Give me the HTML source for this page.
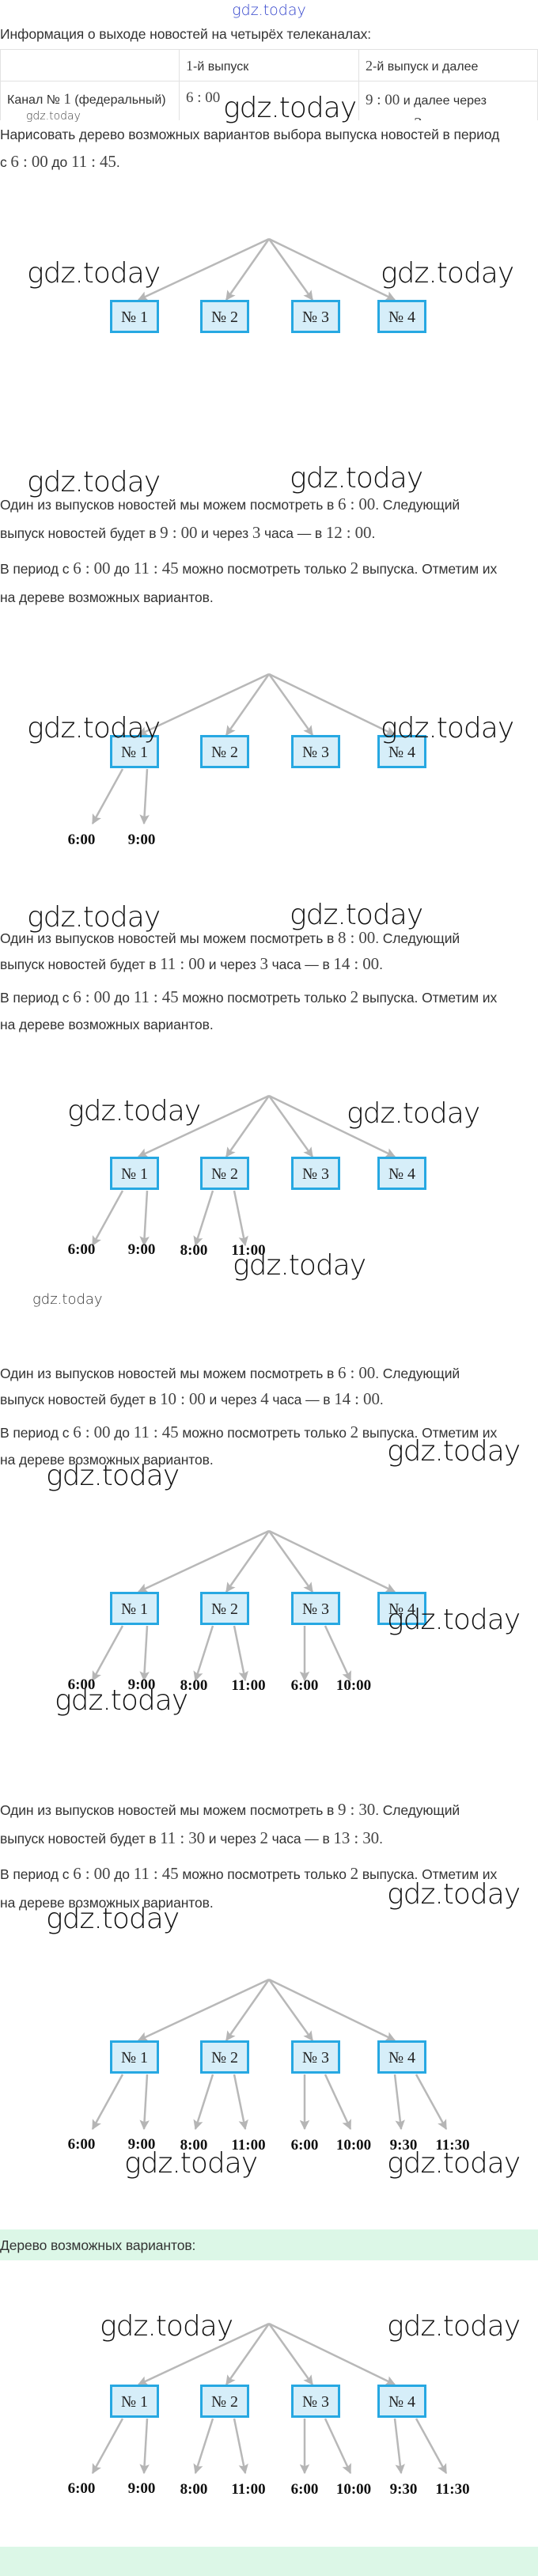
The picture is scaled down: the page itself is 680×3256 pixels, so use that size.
<!DOCTYPE html>
<html><head><meta charset="utf-8">
<style>
html,body{margin:0;padding:0;background:#fff;}
body{width:680px;height:3256px;position:relative;overflow:hidden;font-family:"Liberation Sans",sans-serif;color:#333;}
.l{position:absolute;left:0;white-space:nowrap;font-size:17.5px;line-height:22px;height:22px;color:#333;letter-spacing:-0.1px;}
.m{font-family:"Liberation Serif",serif;font-size:21px;color:#444;}
.wm{position:absolute;white-space:nowrap;font-family:"DejaVu Sans","Liberation Sans",sans-serif;font-weight:200;color:#111;font-size:36px;line-height:40px;height:40px;letter-spacing:-1px;}
svg.t{position:absolute;left:0;width:680px;height:230px;overflow:visible;}
.tbl{position:absolute;left:0;top:62px;width:680px;height:90px;overflow:hidden;}
.cell{position:absolute;border:1px solid #e2e2e2;box-sizing:border-box;font-size:16px;color:#333;padding:0 8px;}
.green{position:absolute;left:0;width:680px;background:#dcf7e7;}
</style></head><body>

<div style="position:absolute;left:0;width:680px;top:2px;text-align:center;font-size:19px;color:#3344cc;font-family:'DejaVu Sans',sans-serif;font-weight:200;">gdz.today</div>

<div class="l" style="top:32px">Информация о выходе новостей на четырёх телеканалах:</div>

<div class="tbl">
 <div class="cell" style="left:0;top:0;width:227px;height:41px;"></div>
 <div class="cell" style="left:226px;top:0;width:228px;height:41px;line-height:40px;"><span class="m" style="font-size:18px">1</span>-й выпуск</div>
 <div class="cell" style="left:453px;top:0;width:227px;height:41px;line-height:40px;"><span class="m" style="font-size:18px">2</span>-й выпуск и далее</div>
 <div class="cell" style="left:0;top:40px;width:227px;height:80px;padding-top:12px;">Канал № <span class="m" style="font-size:19px">1</span> (федеральный)</div>
 <div class="cell" style="left:226px;top:40px;width:228px;height:80px;padding-top:10px;"><span class="m" style="font-size:19px">6 : 00</span></div>
 <div class="cell" style="left:453px;top:40px;width:227px;height:80px;padding-top:10px;line-height:28px;"><span class="m" style="font-size:19px">9 : 00</span> и далее через<br>каждые <span class="m">3</span> часа</div>
</div>
<div class="wm" style="left:33px;top:138px;font-size:14px;line-height:18px;height:18px;color:#444;letter-spacing:0">gdz.today</div>
<div class="wm" style="left:282px;top:117px;">gdz.today</div>

<div class="l" style="top:159px">Нарисовать дерево возможных вариантов выбора выпуска новостей в период</div>
<div class="l" style="top:193px">с <span class="m">6 : 00</span> до <span class="m">11 : 45</span>.</div>

<svg width="0" height="0" style="position:absolute">
<defs>
<marker id="ah" viewBox="0 0 10 10" refX="9" refY="5" markerWidth="5.5" markerHeight="5" orient="auto" markerUnits="strokeWidth">
<path d="M0,0 L10,5 L0,10 L2,5 z" fill="#b5b5b5"/>
</marker>
</defs>
</svg>

<!-- Tree 1 -->
<svg class="t" style="top:302px" viewBox="0 0 680 230">
<g stroke="#b8b8b8" stroke-width="2.5" fill="none" marker-end="url(#ah)">
<line x1="340" y1="0" x2="175" y2="77"/><line x1="340" y1="0" x2="286" y2="77"/><line x1="340" y1="0" x2="395" y2="77"/><line x1="340" y1="0" x2="499" y2="77"/>
</g>
<g fill="#d6eef9" stroke="#27a8e2" stroke-width="3">
<rect x="140.5" y="78.5" width="59" height="39"/><rect x="254.5" y="78.5" width="59" height="39"/><rect x="369.5" y="78.5" width="59" height="39"/><rect x="478.5" y="78.5" width="59" height="39"/>
</g>
<g font-family="Liberation Serif,serif" font-size="20" fill="#222" text-anchor="middle">
<text x="170" y="105">№ 1</text><text x="284" y="105">№ 2</text><text x="399" y="105">№ 3</text><text x="508" y="105">№ 4</text>
</g>
</svg>
<div class="wm" style="left:34px;top:326px;">gdz.today</div>
<div class="wm" style="left:481px;top:326px;">gdz.today</div>

<!-- Section 2 -->
<div class="wm" style="left:34px;top:590px;">gdz.today</div>
<div class="wm" style="left:366px;top:585px;">gdz.today</div>
<div class="l" style="top:626px">Один из выпусков новостей мы можем посмотреть в <span class="m">6 : 00</span>. Следующий</div>
<div class="l" style="top:662px">выпуск новостей будет в <span class="m">9 : 00</span> и через <span class="m">3</span> часа — в <span class="m">12 : 00</span>.</div>
<div class="l" style="top:707px">В период с <span class="m">6 : 00</span> до <span class="m">11 : 45</span> можно посмотреть только <span class="m">2</span> выпуска. Отметим их</div>
<div class="l" style="top:744px">на дереве возможных вариантов.</div>

<svg class="t" style="top:852px" viewBox="0 0 680 230">
<g stroke="#b8b8b8" stroke-width="2.5" fill="none" marker-end="url(#ah)">
<line x1="340" y1="0" x2="175" y2="77"/><line x1="340" y1="0" x2="286" y2="77"/><line x1="340" y1="0" x2="395" y2="77"/><line x1="340" y1="0" x2="499" y2="77"/>
<line x1="155" y1="120" x2="117" y2="189"/><line x1="186" y1="120" x2="182" y2="189"/>
</g>
<g fill="#d6eef9" stroke="#27a8e2" stroke-width="3">
<rect x="140.5" y="78.5" width="59" height="39"/><rect x="254.5" y="78.5" width="59" height="39"/><rect x="369.5" y="78.5" width="59" height="39"/><rect x="478.5" y="78.5" width="59" height="39"/>
</g>
<g font-family="Liberation Serif,serif" font-size="20" fill="#222" text-anchor="middle">
<text x="170" y="105">№ 1</text><text x="284" y="105">№ 2</text><text x="399" y="105">№ 3</text><text x="508" y="105">№ 4</text>
</g>
<g font-family="Liberation Serif,serif" font-size="19" font-weight="bold" fill="#111" text-anchor="middle">
<text x="103" y="215">6:00</text><text x="179" y="215">9:00</text>
</g>
</svg>
<div class="wm" style="left:34px;top:901px;">gdz.today</div>
<div class="wm" style="left:481px;top:901px;">gdz.today</div>

<!-- Section 3 -->
<div class="wm" style="left:34px;top:1140px;">gdz.today</div>
<div class="wm" style="left:366px;top:1137px;">gdz.today</div>
<div class="l" style="top:1174px">Один из выпусков новостей мы можем посмотреть в <span class="m">8 : 00</span>. Следующий</div>
<div class="l" style="top:1207px">выпуск новостей будет в <span class="m">11 : 00</span> и через <span class="m">3</span> часа — в <span class="m">14 : 00</span>.</div>
<div class="l" style="top:1249px">В период с <span class="m">6 : 00</span> до <span class="m">11 : 45</span> можно посмотреть только <span class="m">2</span> выпуска. Отметим их</div>
<div class="l" style="top:1284px">на дереве возможных вариантов.</div>

<svg class="t" style="top:1385px" viewBox="0 0 680 230">
<g stroke="#b8b8b8" stroke-width="2.5" fill="none" marker-end="url(#ah)">
<line x1="340" y1="0" x2="175" y2="77"/><line x1="340" y1="0" x2="286" y2="77"/><line x1="340" y1="0" x2="395" y2="77"/><line x1="340" y1="0" x2="499" y2="77"/>
<line x1="155" y1="120" x2="117" y2="189"/><line x1="186" y1="120" x2="182" y2="189"/>
<line x1="269" y1="120" x2="247" y2="189"/><line x1="296" y1="120" x2="310" y2="189"/>
</g>
<g fill="#d6eef9" stroke="#27a8e2" stroke-width="3">
<rect x="140.5" y="78.5" width="59" height="39"/><rect x="254.5" y="78.5" width="59" height="39"/><rect x="369.5" y="78.5" width="59" height="39"/><rect x="478.5" y="78.5" width="59" height="39"/>
</g>
<g font-family="Liberation Serif,serif" font-size="20" fill="#222" text-anchor="middle">
<text x="170" y="105">№ 1</text><text x="284" y="105">№ 2</text><text x="399" y="105">№ 3</text><text x="508" y="105">№ 4</text>
</g>
<g font-family="Liberation Serif,serif" font-size="19" font-weight="bold" fill="#111" text-anchor="middle">
<text x="103" y="200">6:00</text><text x="179" y="200">9:00</text><text x="245" y="201">8:00</text><text x="314" y="201">11:00</text>
</g>
</svg>
<div class="wm" style="left:85px;top:1385px;">gdz.today</div>
<div class="wm" style="left:438px;top:1388px;">gdz.today</div>
<div class="wm" style="left:294px;top:1580px;">gdz.today</div>
<div class="wm" style="left:41px;top:1632px;font-size:18px;line-height:22px;height:22px;color:#333;letter-spacing:0">gdz.today</div>

<!-- Section 4 -->
<div class="l" style="top:1724px">Один из выпусков новостей мы можем посмотреть в <span class="m">6 : 00</span>. Следующий</div>
<div class="l" style="top:1757px">выпуск новостей будет в <span class="m">10 : 00</span> и через <span class="m">4</span> часа — в <span class="m">14 : 00</span>.</div>
<div class="l" style="top:1799px">В период с <span class="m">6 : 00</span> до <span class="m">11 : 45</span> можно посмотреть только <span class="m">2</span> выпуска. Отметим их</div>
<div class="l" style="top:1834px">на дереве возможных вариантов.</div>
<div class="wm" style="left:489px;top:1815px;">gdz.today</div>
<div class="wm" style="left:58px;top:1846px;">gdz.today</div>

<svg class="t" style="top:1935px" viewBox="0 0 680 230">
<g stroke="#b8b8b8" stroke-width="2.5" fill="none" marker-end="url(#ah)">
<line x1="340" y1="0" x2="175" y2="77"/><line x1="340" y1="0" x2="286" y2="77"/><line x1="340" y1="0" x2="395" y2="77"/><line x1="340" y1="0" x2="499" y2="77"/>
<line x1="155" y1="120" x2="117" y2="189"/><line x1="186" y1="120" x2="182" y2="189"/>
<line x1="269" y1="120" x2="247" y2="189"/><line x1="296" y1="120" x2="310" y2="189"/>
<line x1="385" y1="120" x2="385" y2="189"/><line x1="411" y1="120" x2="443" y2="189"/>
</g>
<g fill="#d6eef9" stroke="#27a8e2" stroke-width="3">
<rect x="140.5" y="78.5" width="59" height="39"/><rect x="254.5" y="78.5" width="59" height="39"/><rect x="369.5" y="78.5" width="59" height="39"/><rect x="478.5" y="78.5" width="59" height="39"/>
</g>
<g font-family="Liberation Serif,serif" font-size="20" fill="#222" text-anchor="middle">
<text x="170" y="105">№ 1</text><text x="284" y="105">№ 2</text><text x="399" y="105">№ 3</text><text x="508" y="105">№ 4</text>
</g>
<g font-family="Liberation Serif,serif" font-size="19" font-weight="bold" fill="#111" text-anchor="middle">
<text x="103" y="200">6:00</text><text x="179" y="200">9:00</text><text x="245" y="201">8:00</text><text x="314" y="201">11:00</text><text x="385" y="201">6:00</text><text x="447" y="201">10:00</text>
</g>
</svg>
<div class="wm" style="left:489px;top:2028px;">gdz.today</div>
<div class="wm" style="left:69px;top:2130px;">gdz.today</div>

<!-- Section 5 -->
<div class="l" style="top:2276px">Один из выпусков новостей мы можем посмотреть в <span class="m">9 : 30</span>. Следующий</div>
<div class="l" style="top:2312px">выпуск новостей будет в <span class="m">11 : 30</span> и через <span class="m">2</span> часа — в <span class="m">13 : 30</span>.</div>
<div class="l" style="top:2357px">В период с <span class="m">6 : 00</span> до <span class="m">11 : 45</span> можно посмотреть только <span class="m">2</span> выпуска. Отметим их</div>
<div class="l" style="top:2394px">на дереве возможных вариантов.</div>
<div class="wm" style="left:489px;top:2375px;">gdz.today</div>
<div class="wm" style="left:58px;top:2406px;">gdz.today</div>

<svg class="t" style="top:2502px" viewBox="0 0 680 230">
<g stroke="#b8b8b8" stroke-width="2.5" fill="none" marker-end="url(#ah)">
<line x1="340" y1="0" x2="175" y2="77"/><line x1="340" y1="0" x2="286" y2="77"/><line x1="340" y1="0" x2="395" y2="77"/><line x1="340" y1="0" x2="499" y2="77"/>
<line x1="155" y1="120" x2="117" y2="189"/><line x1="186" y1="120" x2="182" y2="189"/>
<line x1="269" y1="120" x2="247" y2="189"/><line x1="296" y1="120" x2="310" y2="189"/>
<line x1="385" y1="120" x2="385" y2="189"/><line x1="411" y1="120" x2="443" y2="189"/>
<line x1="499" y1="120" x2="507" y2="189"/><line x1="526" y1="120" x2="564" y2="189"/>
</g>
<g fill="#d6eef9" stroke="#27a8e2" stroke-width="3">
<rect x="140.5" y="78.5" width="59" height="39"/><rect x="254.5" y="78.5" width="59" height="39"/><rect x="369.5" y="78.5" width="59" height="39"/><rect x="478.5" y="78.5" width="59" height="39"/>
</g>
<g font-family="Liberation Serif,serif" font-size="20" fill="#222" text-anchor="middle">
<text x="170" y="105">№ 1</text><text x="284" y="105">№ 2</text><text x="399" y="105">№ 3</text><text x="508" y="105">№ 4</text>
</g>
<g font-family="Liberation Serif,serif" font-size="19" font-weight="bold" fill="#111" text-anchor="middle">
<text x="103" y="214">6:00</text><text x="179" y="214">9:00</text><text x="245" y="215">8:00</text><text x="314" y="215">11:00</text><text x="385" y="215">6:00</text><text x="447" y="215">10:00</text><text x="510" y="215">9:30</text><text x="572" y="215">11:30</text>
</g>
</svg>
<div class="wm" style="left:157px;top:2715px;">gdz.today</div>
<div class="wm" style="left:489px;top:2715px;">gdz.today</div>

<!-- Final -->
<div class="green" style="top:2818px;height:39px;"><div class="l" style="top:9px;color:#333">Дерево возможных вариантов:</div></div>

<svg class="t" style="top:2937px" viewBox="0 0 680 230">
<g stroke="#b8b8b8" stroke-width="2.5" fill="none" marker-end="url(#ah)">
<line x1="340" y1="0" x2="175" y2="77"/><line x1="340" y1="0" x2="286" y2="77"/><line x1="340" y1="0" x2="395" y2="77"/><line x1="340" y1="0" x2="499" y2="77"/>
<line x1="155" y1="120" x2="117" y2="189"/><line x1="186" y1="120" x2="182" y2="189"/>
<line x1="269" y1="120" x2="247" y2="189"/><line x1="296" y1="120" x2="310" y2="189"/>
<line x1="385" y1="120" x2="385" y2="189"/><line x1="411" y1="120" x2="443" y2="189"/>
<line x1="499" y1="120" x2="507" y2="189"/><line x1="526" y1="120" x2="564" y2="189"/>
</g>
<g fill="#d6eef9" stroke="#27a8e2" stroke-width="3">
<rect x="140.5" y="78.5" width="59" height="39"/><rect x="254.5" y="78.5" width="59" height="39"/><rect x="369.5" y="78.5" width="59" height="39"/><rect x="478.5" y="78.5" width="59" height="39"/>
</g>
<g font-family="Liberation Serif,serif" font-size="20" fill="#222" text-anchor="middle">
<text x="170" y="105">№ 1</text><text x="284" y="105">№ 2</text><text x="399" y="105">№ 3</text><text x="508" y="105">№ 4</text>
</g>
<g font-family="Liberation Serif,serif" font-size="19" font-weight="bold" fill="#111" text-anchor="middle">
<text x="103" y="214">6:00</text><text x="179" y="214">9:00</text><text x="245" y="215">8:00</text><text x="314" y="215">11:00</text><text x="385" y="215">6:00</text><text x="447" y="215">10:00</text><text x="510" y="215">9:30</text><text x="572" y="215">11:30</text>
</g>
</svg>
<div class="wm" style="left:126px;top:2921px;">gdz.today</div>
<div class="wm" style="left:489px;top:2921px;">gdz.today</div>

<div class="green" style="top:3219px;height:37px;"></div>
</body></html>
